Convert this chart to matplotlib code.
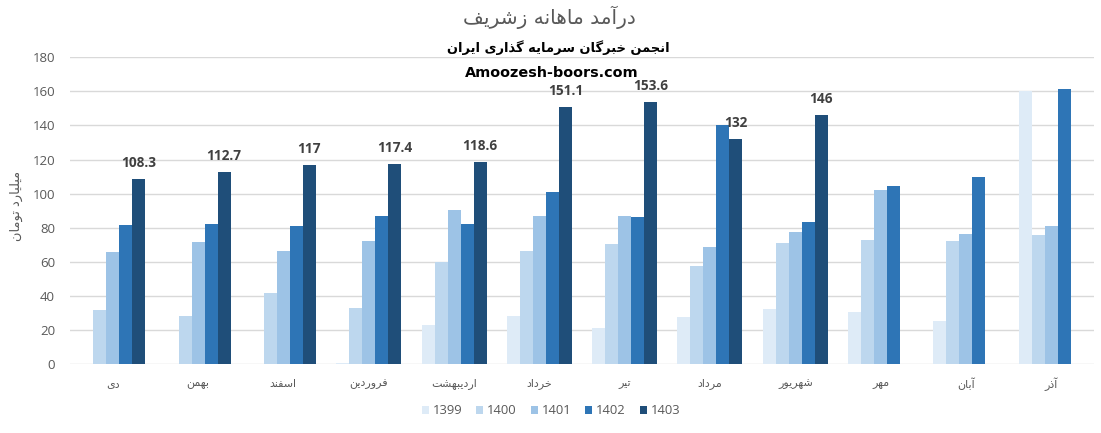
import numpy as np
import matplotlib
matplotlib.use('Agg')
import matplotlib.pyplot as plt
from matplotlib.patches import Patch

# ---------------- data ----------------
months = ['دی', 'بهمن', 'اسفند', 'فروردین', 'اردیبهشت', 'خرداد',
          'تیر', 'مرداد', 'شهریور', 'مهر', 'آبان', 'آذر']
years = ['1399', '1400', '1401', '1402', '1403']
nan = np.nan
v1399 = [nan, nan, nan, 0.5, 23.1, 28.4, 21.0, 27.8, 32.5, 30.8, 25.5, 160.2]
v1400 = [31.4, 28.4, 41.4, 33.1, 60.0, 66.1, 70.2, 57.8, 70.8, 72.5, 72.0, 75.5]
v1401 = [65.5, 71.4, 66.1, 72.0, 90.2, 86.7, 86.7, 68.4, 77.3, 102.0, 76.1, 80.8]
v1402 = [81.4, 82.0, 80.8, 86.7, 82.0, 100.8, 86.1, 140.2, 83.1, 104.3, 109.6, 161.4]
v1403 = [108.3, 112.7, 117, 117.4, 118.6, 151.1, 153.6, 132, 146, nan, nan, nan]
series = [v1399, v1400, v1401, v1402, v1403]
yticks = [0, 20, 40, 60, 80, 100, 120, 140, 160, 180]

title = 'درآمد ماهانه زشریف'
subtitle = 'انجمن خبرگان سرمایه گذاری ایران'
site = 'Amoozesh-boors.com'
ylabel = 'میلیارد تومان'

colors = ['#DEEBF7', '#BDD7EE', '#9DC3E6', '#2E75B6', '#1F4E79']

# ------------- minimal Persian shaping (presentation forms + RTL) -------------
FORMS = {
    'ا': ('\uFE8D', '\uFE8E', None, None),
    'آ': ('\uFE81', '\uFE82', None, None),
    'ب': ('\uFE8F', '\uFE90', '\uFE91', '\uFE92'),
    'ت': ('\uFE95', '\uFE96', '\uFE97', '\uFE98'),
    'ج': ('\uFE9D', '\uFE9E', '\uFE9F', '\uFEA0'),
    'خ': ('\uFEA5', '\uFEA6', '\uFEA7', '\uFEA8'),
    'د': ('\uFEA9', '\uFEAA', None, None),
    'ذ': ('\uFEAB', '\uFEAC', None, None),
    'ر': ('\uFEAD', '\uFEAE', None, None),
    'ز': ('\uFEAF', '\uFEB0', None, None),
    'س': ('\uFEB1', '\uFEB2', '\uFEB3', '\uFEB4'),
    'ش': ('\uFEB5', '\uFEB6', '\uFEB7', '\uFEB8'),
    'ف': ('\uFED1', '\uFED2', '\uFED3', '\uFED4'),
    'ل': ('\uFEDD', '\uFEDE', '\uFEDF', '\uFEE0'),
    'م': ('\uFEE1', '\uFEE2', '\uFEE3', '\uFEE4'),
    'ن': ('\uFEE5', '\uFEE6', '\uFEE7', '\uFEE8'),
    'ه': ('\uFEE9', '\uFEEA', '\uFEEB', '\uFEEC'),
    'و': ('\uFEED', '\uFEEE', None, None),
    'ی': ('\uFBFC', '\uFBFD', '\uFBFE', '\uFBFF'),
    'گ': ('\uFB92', '\uFB93', '\uFB94', '\uFB95'),
}


def shape(s):
    out = []
    n = len(s)
    for i, c in enumerate(s):
        f = FORMS.get(c)
        if f is None:
            out.append(c)
            continue
        prev = s[i - 1] if i > 0 else None
        nxt = s[i + 1] if i < n - 1 else None
        jp = prev in FORMS and FORMS[prev][2] is not None
        jn = f[2] is not None and nxt in FORMS
        if jp and jn:
            out.append(f[3])
        elif jp:
            out.append(f[1])
        elif jn:
            out.append(f[2])
        else:
            out.append(f[0])
    return ''.join(out)[::-1]


FA = ['DejaVu Sans']
NUM = ['Open Sans', 'DejaVu Sans']
GRAY = '#595959'

W, H = 1101, 433
fig = plt.figure(figsize=(W / 100, H / 100), dpi=100)
ax = fig.add_axes([70 / W, 1 - 364 / H, 1024 / W, (364 - 57.3) / H])

x = np.arange(len(months))
bw = 13 / (1024 / 12)
for k, (vals, col) in enumerate(zip(series, colors)):
    ax.bar(x + (k - 2) * bw, vals, width=bw, color=col, zorder=2)

# data labels on the 1403 series
for xi, v in zip(x + 2 * bw, v1403):
    if np.isnan(v):
        continue
    ax.annotate(f'{v:g}', (xi, v), xytext=(0, 11.5), textcoords='offset points',
                ha='center', va='center', fontsize=9.8, fontweight='bold',
                color='#404040', family=NUM, zorder=3)

ax.set_xlim(-0.5, len(months) - 0.5)
ax.set_ylim(0, 180)
ax.set_yticks(yticks)
ax.set_yticklabels([str(t) for t in yticks], family=NUM, fontsize=9.5, color=GRAY)
ax.set_xticks(x)
ax.set_xticklabels([shape(m) for m in months], family=FA, fontsize=8, color=GRAY)
for lab in ax.get_xticklabels():
    lab.set_va('center')
ax.tick_params(axis='y', length=0, pad=10.8)
ax.tick_params(axis='x', length=0, pad=14.4)
ax.yaxis.grid(True, color='#D9D9D9', lw=1)
ax.set_axisbelow(True)
for s in ax.spines.values():
    s.set_visible(False)

t_title = fig.text(549.5 / W, 1 - 17 / H, shape(title), ha='center', va='center',
                   family=FA, fontsize=13, color=GRAY)
t_sub = fig.text(558.5 / W, 1 - 47.5 / H, shape(subtitle), ha='center', va='center',
                 family=FA, fontsize=10, fontweight='bold', color='black')
t_site = fig.text(551.5 / W, 1 - 73 / H, site, ha='center', va='center',
                  family=['DejaVu Sans'], fontsize=10, fontweight='bold', color='black')
t_yl = fig.text(16 / W, 1 - 206 / H, shape(ylabel), ha='center', va='center',
                rotation=90, family=FA, fontsize=8, color=GRAY)

handles = [Patch(facecolor=c, edgecolor='none') for c in colors]
fig.legend(handles, years, ncol=5, loc='center', bbox_to_anchor=(551 / W, 1 - 411 / H),
           frameon=False, handlelength=0.55, handleheight=0.55, handletextpad=0.3,
           columnspacing=1.05, prop={'family': NUM, 'size': 9.4}, labelcolor=GRAY)

# fit text widths to the reference
fig.canvas.draw()
r = fig.canvas.get_renderer()


def fit(t, target, extra=1.0):
    w = t.get_window_extent(r).width
    if w > 0:
        t.set_fontsize(t.get_fontsize() * target / w * extra)


fit(t_title, 157, 1.1)
fit(t_sub, 217, 1.03)
fit(t_site, 173)
# y label is rotated: its height in pixels is the text length
h = t_yl.get_window_extent(r).height
t_yl.set_fontsize(t_yl.get_fontsize() * 65 / h * 1.08)

labs = ax.get_xticklabels()
wref = labs[4].get_window_extent(r).width
fs = labs[4].get_fontsize() * 40 / wref * 1.15
for lab in labs:
    lab.set_fontsize(fs)

fig.savefig('out.png', dpi=100)
